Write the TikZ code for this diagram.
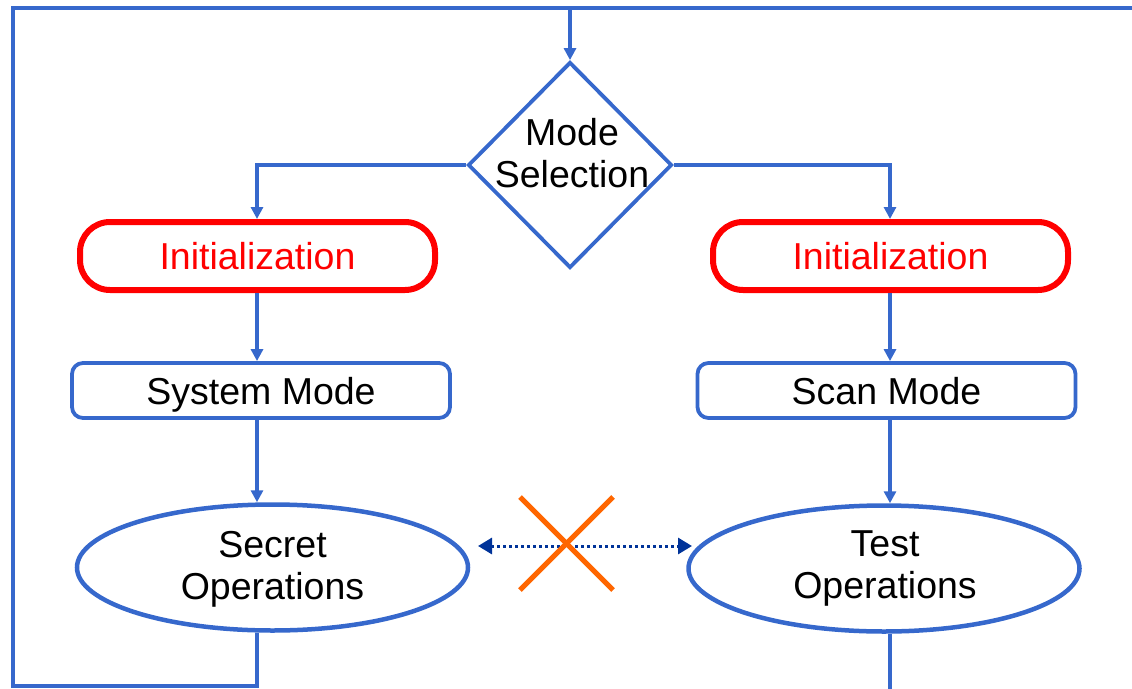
\documentclass[tikz,border=0pt]{standalone}
\usepackage{fontspec}
\setmainfont{Liberation Sans}
\usetikzlibrary{arrows.meta,shapes.geometric,calc}
\definecolor{flowblue}{RGB}{54,104,204}
\definecolor{initred}{RGB}{255,0,0}
\definecolor{linkblue}{RGB}{0,51,153}
\definecolor{crossorange}{RGB}{255,102,0}
\tikzset{
  flow/.style={draw=flowblue, line width=3.8pt},
  flowarrow/.style={flow, -{Triangle[length=12pt,width=12pt]}},
  txt/.style={font=\fontsize{37.5}{42}\selectfont, align=center},
  oneline/.style={text height=27pt, text depth=0pt},
  decision/.style={diamond, draw=flowblue, line width=3.8pt, minimum width=204pt, minimum height=206pt, inner sep=0pt},
  initbox/.style={rectangle, rounded corners=30pt, draw=initred, line width=6pt, minimum width=355pt, minimum height=68pt, inner sep=0pt, txt, oneline, text=initred},
  modebox/.style={rectangle, rounded corners=11pt, draw=flowblue, line width=3.8pt, minimum width=378pt, minimum height=55pt, inner sep=0pt, txt, oneline},
  opellipse/.style={ellipse, draw=flowblue, line width=4.5pt, minimum width=391pt, minimum height=126pt, inner sep=0pt, txt},
  link/.style={draw=linkblue, line width=3pt, dash pattern=on 3pt off 3pt, {Triangle[length=14pt,width=16pt]}-{Triangle[length=14pt,width=16pt]}},
  crossline/.style={draw=crossorange, line width=5pt}
}
\begin{document}
\begin{tikzpicture}[x=1pt, y=-1pt]
  \useasboundingbox (0,0) rectangle (1132,688);

  % decision
  \node[decision] (ms) at (570,165) {};
  \node[txt] (mstext) at (572,153) {Mode\\Selection};

  % left column
  \node[initbox]   (initL) at (257.5,256) {Initialization};
  \node[modebox]   (sysm)  at (261,390.5) {System Mode};
  \node[opellipse] (secop) at (272.5,567.5) {};
  \node[txt] (sectext) at (272.5,569) {Secret\\Operations};

  % right column
  \node[initbox]   (initR) at (890.5,256) {Initialization};
  \node[modebox]   (scanm) at (886.5,390.5) {Scan Mode};
  \node[opellipse] (testop) at (884,568.5) {};
  \node[txt] (testtext) at (885,568) {Test\\Operations};

  % loop frame corners
  \coordinate (tl) at (13,8);
  \coordinate (bl) at (13,686);
  \coordinate (tr) at (1145,8);
  \coordinate (lx) at (257,0);
  \coordinate (rx) at (890,0);
  \coordinate (rb) at (890,700);

  % branches out of the decision
  \draw[flowarrow] (ms.north |- tl) -- (ms.north);
  \draw[flowarrow] (ms.west) -| (lx |- initL.north);
  \draw[flowarrow] (ms.east) -| (rx |- initR.north);

  % left chain
  \draw[flowarrow] (lx |- initL.south) -- (lx |- sysm.north);
  \draw[flowarrow] (lx |- sysm.south) -- (lx |- secop.north);

  % right chain
  \draw[flowarrow] (rx |- initR.south) -- (rx |- scanm.north);
  \draw[flowarrow] (rx |- scanm.south) -- (rx |- testop.north);

  % return loop and outgoing line
  \draw[flow] (lx |- secop.south) -- (lx |- bl) -- (bl) -- (tl) -- (tr);
  \draw[flow] (rx |- testop.south) -- (rb);

  % forbidden link between the two operation modes
  \coordinate (la) at (478,546);
  \coordinate (lb) at (692,546);
  \draw[link] (la) -- (lb);
  \coordinate (c1) at (520,497);
  \coordinate (c2) at (613,590);
  \coordinate (c3) at (613,497);
  \coordinate (c4) at (520,590);
  \draw[crossline] (c1) -- (c2);
  \draw[crossline] (c3) -- (c4);
\end{tikzpicture}
\end{document}
